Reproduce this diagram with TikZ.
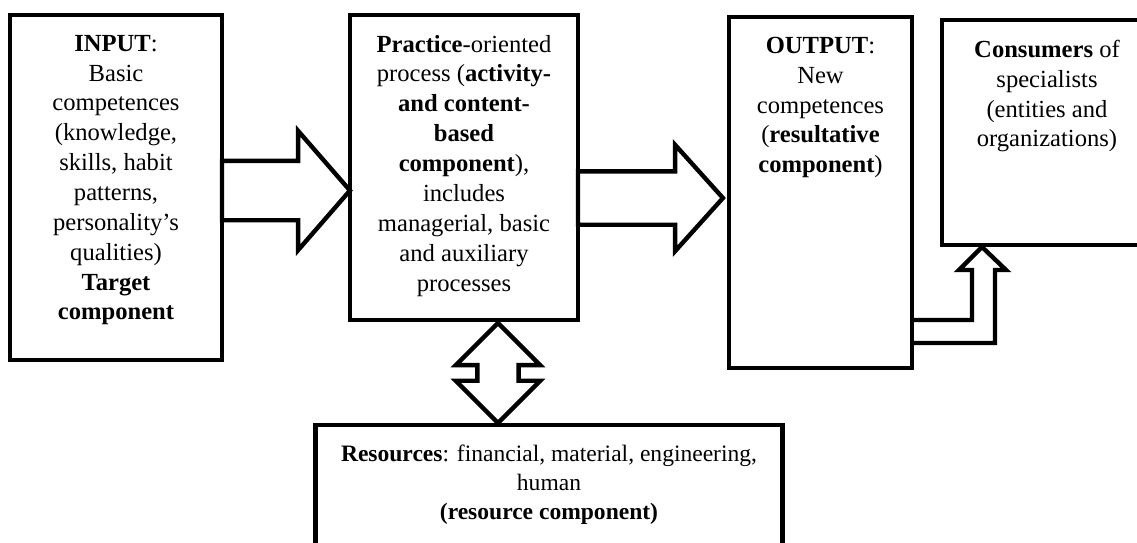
\documentclass[tikz,border=0pt]{standalone}
\usepackage{fontspec}
\setmainfont{Liberation Serif}
\usepackage{tikz}
\usetikzlibrary{calc,positioning,shapes.arrows}
\tikzstyle{blackbox}=[rectangle,draw=black,fill=white,line width=2.8pt,
                      inner sep=0pt,outer sep=0pt]
\tikzstyle{boxtext}=[align=center,inner sep=0pt,outer sep=0pt,
                     font=\fontsize{14}{17}\selectfont]
\tikzstyle{blockarrow}=[draw=black,fill=white,line width=2.5pt,inner xsep=0pt,outer sep=0pt]
\newcommand\pxunit{0.02cm}

\begin{document}
\begin{tikzpicture}[x=\pxunit,y=-\pxunit,node distance=0.4cm]
    \useasboundingbox (0,0) rectangle (1137,542);
    \clip (0,0) rectangle (1137,542);
    % boxes
    \node [blackbox,minimum width=4.24cm,minimum height=6.9cm] (Input) at (116,187.5) {};
    \node [blackbox,minimum width=4.56cm,minimum height=6.1cm] (Practice) at (464,167.5) {};
    \node [blackbox,minimum width=3.66cm,minimum height=7.02cm] (Output) at (820.5,192.5) {};
    \node [blackbox,minimum width=4.2cm,minimum height=4.5cm] (Consumers) at (1047,132.5) {};
    \node [blackbox,minimum width=9.36cm,minimum height=2.7cm] (Resources) at (549,492.5) {};
    % texts
    \node [boxtext,below=of Input.north] (Input text) {
        \textbf{INPUT}:\\ Basic\\ competences\\ (knowledge,\\ skills, habit\\ patterns,\\
        personality’s\\ qualities)\\ \textbf{Target}\\ \textbf{component}
    };
    \node [boxtext,below=of Practice.north] (Practice text) {
        \textbf{Practice}-oriented\\ process (\textbf{activity-}\\ \textbf{and content-}\\
        \textbf{based}\\ \textbf{component}),\\ includes\\ managerial, basic\\
        and auxiliary\\ processes
    };
    \node [boxtext,below=of Output.north] (Output text) {
        \textbf{OUTPUT}:\\ New\\ competences\\ (\textbf{resultative}\\ \textbf{component})
    };
    \node [boxtext,below=of Consumers.north] (Consumers text) {
        \textbf{Consumers} of\\ specialists\\ (entities and\\ organizations)
    };
    \node [boxtext,font=\fontsize{13.4}{16.6}\selectfont,below=of Resources.north] (Resources text) {
        \textbf{Resources}: financial, material, engineering,\\ human\\ \textbf{(resource component)}
    };
    % arrows
    \node [blockarrow,single arrow,single arrow head extend=0.6cm,single arrow tip angle=98,
           inner ysep=0.55cm,minimum height=2.56cm,anchor=tail]
        (Input arrow) at ($(Input.east)+(0,3)$) {};
    \node [blockarrow,single arrow,single arrow head extend=0.53cm,single arrow tip angle=96,
           inner ysep=0.49cm,minimum height=2.9cm,anchor=tail]
        (Practice arrow) at ($(Practice.east)+(0,30.5)$) {};
    \node [blockarrow,double arrow,double arrow head extend=0.43cm,rotate=90,
           inner ysep=0.37cm,minimum height=2cm]
        (Resources arrow) at ($(Practice.south)+(34,53)$) {};
    \draw [blockarrow,fill=none] ($(Output.south east)+(0,-48)$) -| ++(60,-50) -- ++(-13,0)
        -- ++(23,-23) -- ++(24,23) -- ++(-11,0) |- ($(Output.south east)+(0,-25)$);
\end{tikzpicture}
\end{document}
